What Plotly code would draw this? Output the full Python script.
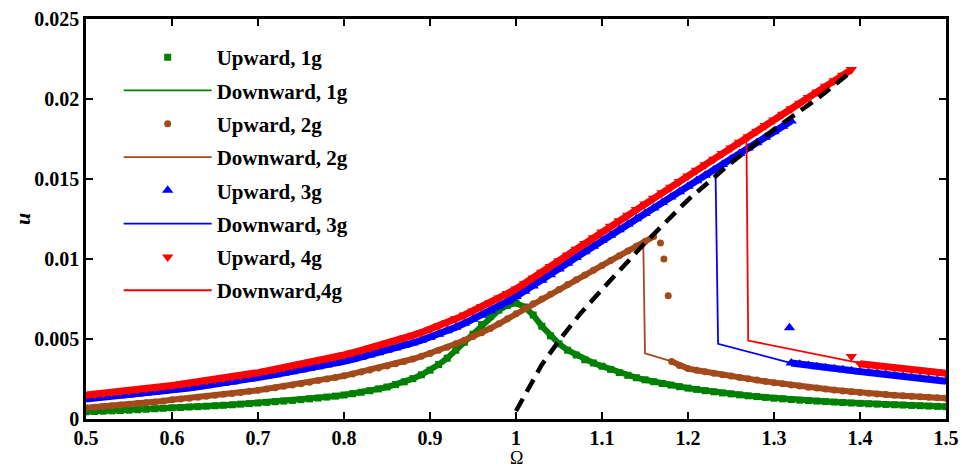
import plotly.graph_objects as go

# ---------------- data ----------------
# 1g (green squares / line)
up1_x = [0.50,0.51,0.52,0.53,0.54,0.55,0.56,0.57,0.58,0.59,0.60,0.61,0.62,0.63,0.64,0.65,0.66,0.67,0.68,0.69,0.70,
         0.71,0.72,0.73,0.74,0.75,0.76,0.77,0.78,0.79,0.80,0.81,0.82,0.83,0.84,0.85,0.86,0.87,0.88,0.89,0.90,
         0.91,0.92,0.93,0.94,0.95,0.96,0.97,0.98,0.99,1.00,1.01,1.02,1.03,1.04,1.05,1.06,1.07,1.08,1.09,1.10,
         1.11,1.12,1.13,1.14,1.15,1.16,1.17,1.18,1.19,1.20,1.21,1.22,1.23,1.24,1.25,1.26,1.27,1.28,1.29,1.30,
         1.31,1.32,1.33,1.34,1.35,1.36,1.37,1.38,1.39,1.40,1.41,1.42,1.43,1.44,1.45,1.46,1.47,1.48,1.49,1.50]
up1_y = [.00045,.00047,.00049,.00051,.00053,.00055,.00058,.00061,.00064,.00067,.00070,
         .00072,.00075,.00077,.00080,.00083,.00086,.00089,.00093,.00096,.00100,
         .00104,.00108,.00112,.00116,.00121,.00126,.00131,.00137,.00143,.00150,
         .00158,.00167,.00177,.00188,.00200,.00215,.00232,.00252,.00276,.00305,
         .0034,.0038,.0043,.0048,.0053,.0059,.0064,.0068,.0071,.00725,
         .0070,.0065,.0058,.0052,.0047,.0043,.0040,.0037,.0035,.0033,
         .00310,.00290,.00273,.00258,.00245,.00233,.00222,.00212,.00202,.00193,
         .00185,.00177,.00170,.00163,.00157,.00151,.00145,.00140,.00135,.00130,
         .00126,.00122,.00118,.00115,.00112,.00109,.00106,.00103,.00100,.00098,
         .00095,.00093,.00091,.00089,.00087,.00085,.00083,.00081,.00079,.00077]
down1_x = [1.50,1.45,1.40,1.35,1.30,1.25,1.20,1.15,1.10,1.08,1.06,1.04,1.02,1.00,0.98,0.96,0.94,0.92,0.90,0.85,0.80,0.75,0.70,0.65,0.60,0.55,0.50]
down1_y = [.00077,.00087,.00098,.00112,.0013,.00157,.00193,.00245,.0033,.0037,.0043,.0052,.0065,.00725,.0068,.0059,.0048,.0038,.00305,.0020,.0015,.00121,.0010,.00083,.0007,.00055,.00045]

# 2g (brown circles / line)
up2_x = [0.50,0.51,0.52,0.53,0.54,0.55,0.56,0.57,0.58,0.59,0.60,0.61,0.62,0.63,0.64,0.65,0.66,0.67,0.68,0.69,0.70,
         0.71,0.72,0.73,0.74,0.75,0.76,0.77,0.78,0.79,0.80,0.81,0.82,0.83,0.84,0.85,0.86,0.87,0.88,0.89,0.90,
         0.91,0.92,0.93,0.94,0.95,0.96,0.97,0.98,0.99,1.00,1.01,1.02,1.03,1.04,1.05,1.06,1.07,1.08,1.09,1.10,
         1.11,1.12,1.13,1.14,1.15,1.16,1.168,1.172,1.177,1.181,
         1.19,1.20,1.21,1.22,1.23,1.24,1.25,1.26,1.27,1.28,1.29,1.30,1.31,1.32,1.33,1.34,1.35,1.36,1.37,1.38,1.39,1.40,
         1.41,1.42,1.43,1.44,1.45,1.46,1.47,1.48,1.49,1.50]
up2_y = [.00070,.00074,.00078,.00083,.00087,.00092,.00097,.00102,.00107,.00113,.00120,
         .00125,.00130,.00136,.00142,.00148,.00154,.00160,.00166,.00173,.00180,
         .00188,.00196,.00204,.00212,.00221,.00230,.00240,.00250,.00260,.00270,
         .00282,.00294,.00306,.00319,.00332,.00346,.00360,.00375,.00392,.00410,
         .00429,.00449,.00470,.00492,.00515,.00539,.00566,.00595,.00626,.00658,
         .00690,.00720,.00750,.00780,.00810,.00840,.00870,.00900,.00930,.00960,
         .00990,.01020,.01050,.01080,.01110,.01140,.0110,.0100,.0077,.0036,
         .00335,.00315,.00305,.00295,.00286,.00277,.00268,.00259,.00251,.00243,.00235,.00227,.00220,.00213,.00206,.00199,
         .00193,.00187,.00181,.00175,.00170,.00165,
         .00161,.00157,.00153,.00149,.00145,.00142,.00139,.00136,.00133,.00130]
down2_x = [1.50,1.45,1.40,1.35,1.30,1.25,1.20,1.181,1.150,1.148,1.10,1.05,1.00,0.95,0.90,0.85,0.80,0.75,0.70,0.65,0.60,0.55,0.50]
down2_y = [.0013,.00145,.00165,.00193,.00227,.00268,.00315,.0036,.0041,.0110,.0096,.0081,.00658,.00515,.0041,.00332,.0027,.00221,.0018,.00148,.0012,.00092,.0007]

# 3g (blue triangles / line)
up3_x = [0.50,0.51,0.52,0.53,0.54,0.55,0.56,0.57,0.58,0.59,0.60,0.61,0.62,0.63,0.64,0.65,0.66,0.67,0.68,0.69,0.70,
         0.71,0.72,0.73,0.74,0.75,0.76,0.77,0.78,0.79,0.80,0.81,0.82,0.83,0.84,0.85,0.86,0.87,0.88,0.89,0.90,
         0.91,0.92,0.93,0.94,0.95,0.96,0.97,0.98,0.99,1.00,1.01,1.02,1.03,1.04,1.05,1.06,1.07,1.08,1.09,1.10,
         1.11,1.12,1.13,1.14,1.15,1.16,1.17,1.18,1.19,1.20,1.21,1.22,1.23,1.24,1.25,1.26,1.27,1.28,1.29,1.30,
         1.31,1.32,1.318,
         1.32,1.33,1.34,1.35,1.36,1.37,1.38,1.39,1.40,1.41,1.42,1.43,1.44,1.45,1.46,1.47,1.48,1.49,1.50]
up3_y = [.00125,.00130,.00135,.00140,.00145,.00150,.00156,.00162,.00168,.00174,.00180,
         .00187,.00194,.00201,.00208,.00216,.00224,.00232,.00241,.00250,.00260,
         .00268,.00277,.00286,.00296,.00306,.00316,.00327,.00338,.00349,.00360,
         .00373,.00386,.00400,.00414,.00429,.00444,.00459,.00475,.00492,.00510,
         .00530,.00551,.00574,.00598,.00623,.00649,.00676,.00704,.00733,.00765,
         .00798,.00832,.00867,.00902,.00938,.00974,.01010,.01045,.01080,.01115,
         .01149,.01183,.01217,.01251,.01285,.01319,.01353,.01387,.01421,.01455,
         .01489,.01523,.01557,.01591,.01625,.01659,.01693,.01727,.01761,.01795,
         .01829,.01863,.0057,
         .0035,.00342,.00334,.00327,.00320,.00314,.00308,.00302,.00296,.00290,.00284,.00278,.00272,.00266,.00260,.00254,.00248,.00242,.00236]
down3_x = [1.50,1.45,1.40,1.32,1.235,1.232,1.20,1.15,1.10,1.05,1.00,0.95,0.90,0.85,0.80,0.75,0.70,0.65,0.60,0.55,0.50]
down3_y = [.00236,.00266,.00296,.0035,.0047,.0155,.01455,.01285,.01115,.00938,.00765,.00623,.0051,.00429,.0036,.00306,.0026,.00216,.0018,.0015,.00125]

# 4g (red down-triangles / line)
up4_x = [0.50,0.51,0.52,0.53,0.54,0.55,0.56,0.57,0.58,0.59,0.60,0.61,0.62,0.63,0.64,0.65,0.66,0.67,0.68,0.69,0.70,
         0.71,0.72,0.73,0.74,0.75,0.76,0.77,0.78,0.79,0.80,0.81,0.82,0.83,0.84,0.85,0.86,0.87,0.88,0.89,0.90,
         0.91,0.92,0.93,0.94,0.95,0.96,0.97,0.98,0.99,1.00,1.01,1.02,1.03,1.04,1.05,1.06,1.07,1.08,1.09,1.10,
         1.11,1.12,1.13,1.14,1.15,1.16,1.17,1.18,1.19,1.20,1.21,1.22,1.23,1.24,1.25,1.26,1.27,1.28,1.29,1.30,
         1.31,1.32,1.33,1.34,1.35,1.36,1.37,1.38,1.39,
         1.39,1.40,1.41,1.42,1.43,1.44,1.45,1.46,1.47,1.48,1.49,1.50]
up4_y = [.00150,.00155,.00160,.00166,.00172,.00178,.00184,.00190,.00197,.00203,.00210,
         .00217,.00224,.00231,.00239,.00247,.00255,.00263,.00272,.00281,.00290,
         .00300,.00310,.00320,.00331,.00342,.00354,.00365,.00377,.00389,.00400,
         .00414,.00428,.00443,.00458,.00474,.00490,.00506,.00523,.00541,.00560,
         .00581,.00603,.00626,.00650,.00675,.00701,.00728,.00756,.00784,.00813,
         .00846,.00881,.00917,.00953,.00989,.01025,.01061,.01097,.01133,.01169,
         .01204,.01239,.01274,.01309,.01344,.01379,.01414,.01449,.01484,.01519,
         .01554,.01589,.01624,.01659,.01694,.01729,.01764,.01799,.01834,.01869,
         .01904,.01939,.01974,.02009,.02044,.02079,.02114,.02149,.02184,
         .0039,.00345,.00340,.00334,.00328,.00322,.00316,.00310,.00304,.00298,.00292,.00286]
down4_x = [1.50,1.45,1.39,1.27,1.268,1.25,1.20,1.15,1.10,1.05,1.00,0.95,0.90,0.85,0.80,0.75,0.70,0.65,0.60,0.55,0.50]
down4_y = [.00286,.00316,.0036,.0049,.0174,.01694,.01519,.01344,.01169,.00989,.00813,.00675,.0056,.00474,.0040,.00342,.0029,.00247,.0021,.00178,.0015]

# backbone (black dashed)
bb_x = [1.00,1.01,1.02,1.03,1.05,1.075,1.10,1.15,1.20,1.25,1.30,1.35,1.385]
bb_y = [.0005,.0015,.0025,.0034,.0049,.0066,.0081,.0110,.0137,.0160,.0181,.0200,.0215]

x_ticks = [0.5,0.6,0.7,0.8,0.9,1.0,1.1,1.2,1.3,1.4,1.5]
x_tick_text = ["0.5","0.6","0.7","0.8","0.9","1","1.1","1.2","1.3","1.4","1.5"]
y_ticks = [0,0.005,0.01,0.015,0.02,0.025]
y_tick_text = ["0","0.005","0.01","0.015","0.02","0.025"]

names = ["Upward, 1g","Downward, 1g","Upward, 2g","Downward, 2g",
         "Upward, 3g","Downward, 3g","Upward, 4g","Downward,4g"]
colors = ["#008000","#A34A1C","#0000FF","#FF0000"]

# continuous stretches of each upward sweep (index ranges into the arrays above)
band_ranges = [[(0, len(up1_x))],
               [(0, 67), (70, len(up2_x))],
               [(0, 83), (84, len(up3_x))],
               [(0, 90), (91, len(up4_x))]]

# ---------------- figure ----------------
fig = go.Figure()
series = [(up1_x, up1_y, down1_x, down1_y, "square", 7, 6),
          (up2_x, up2_y, down2_x, down2_y, "circle", 7, 6),
          (up3_x, up3_y, down3_x, down3_y, "triangle-up", 10, 7),
          (up4_x, up4_y, down4_x, down4_y, "triangle-down", 10, 7)]
for i, (ux, uy, dx, dy, sym, sz, bw) in enumerate(series):
    c = colors[i]
    for (a, b) in band_ranges[i]:
        fig.add_trace(go.Scatter(x=ux[a:b], y=uy[a:b], mode="lines", showlegend=False,
                                 legendgroup="g%d" % (2*i),
                                 hoverinfo="skip", line=dict(color=c, width=bw)))
    fig.add_trace(go.Scatter(x=ux, y=uy, mode="markers", name=names[2*i],
                             legendgroup="g%d" % (2*i),
                             marker=dict(symbol=sym, size=sz, color=c, line=dict(width=0))))
    fig.add_trace(go.Scatter(x=dx, y=dy, mode="lines", name=names[2*i+1],
                             legendgroup="g%d" % (2*i+1),
                             line=dict(color=c, width=1.8)))
fig.add_trace(go.Scatter(x=bb_x, y=bb_y, mode="lines", showlegend=False,
                         legendgroup="g7",
                         line=dict(color="black", width=4.5, dash="14px,8px")))

fig.update_layout(
    width=962, height=470,
    margin=dict(l=86, r=16, t=19, b=51, autoexpand=False),
    paper_bgcolor="white", plot_bgcolor="white",
    font=dict(family="Liberation Serif", color="black"),
    legend=dict(x=0.038, y=0.955, xanchor="left", yanchor="top",
                bgcolor="rgba(0,0,0,0)", borderwidth=0,
                font=dict(family="Liberation Serif", size=21, color="black", weight="bold"),
                itemwidth=88, tracegroupgap=3, traceorder="grouped"),
    xaxis=dict(range=[0.5, 1.5], tickvals=x_ticks, ticktext=x_tick_text, automargin=False,
               showgrid=False, zeroline=False, showline=True, linecolor="black", linewidth=2.5,
               mirror="ticks", ticks="inside", ticklen=7, tickwidth=2, tickcolor="black",
               ticklabelstandoff=-1,
               tickfont=dict(family="Liberation Serif", size=20, color="black", weight="bold")),
    yaxis=dict(range=[0, 0.025], tickvals=y_ticks, ticktext=y_tick_text, automargin=False,
               showgrid=False, zeroline=False, showline=True, linecolor="black", linewidth=2.5,
               mirror="ticks", ticks="inside", ticklen=7, tickwidth=2, tickcolor="black",
               tickfont=dict(family="Liberation Serif", size=20, color="black", weight="bold")),
    annotations=[
        dict(text="Ω", xref="paper", yref="paper", x=0.5, y=0, yshift=-51,
             xanchor="center", yanchor="bottom", showarrow=False,
             font=dict(family="Liberation Serif", size=18, color="black")),
        dict(text="<b><i>u</i></b>", xref="paper", yref="paper", x=0, y=0.5, xshift=-64,
             xanchor="center", yanchor="middle", textangle=-90, showarrow=False,
             font=dict(family="Liberation Serif", size=22, color="black")),
    ],
)

fig.write_html("out.html")
